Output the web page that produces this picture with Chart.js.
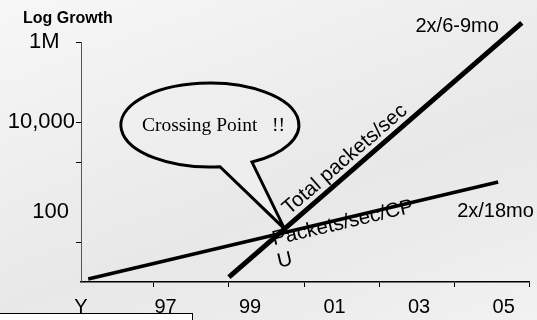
<!DOCTYPE html>
<html><head><meta charset="utf-8">
<script src="https://cdn.jsdelivr.net/npm/chart.js@4"></script>
<style>
html,body{margin:0;padding:0;}
#wrap{position:relative;width:537px;height:320px;overflow:hidden;
 background:linear-gradient(160deg,#f7f7f7 0%,#eeeeee 35%,#e8e8e8 60%,#ececec 80%,#f2f2f2 100%);}
#box{position:absolute;left:-1px;top:313px;width:194px;height:20px;background:#fff;border:1px solid #000;box-sizing:border-box;}
</style></head><body>
<div id="wrap"><canvas id="c"></canvas><div id="box"></div></div>
<script>
// ---- data ----
const seriesNames = ['Total packets/sec', 'Packets/sec/CPU'];
const totalYears  = [1998.5, 2005.43];
const totalValues = [1.33, 3000000];
const cpuYears    = [1995.17, 2004.87];
const cpuValues   = [1.19, 316];
const xLabelYears = [1995, 1997, 1999, 2001, 2003, 2005];
const xLabels     = ['Y', '97', '99', '01', '03', '05'];
const xMarkYears  = [1996.72, 1998.5, 2000.29, 2002.06, 2003.83, 2005.6];
const yLabelValues = [56, 10000, 1000000];
const yLabels      = ['100 ', '10,000', '1M\u2002\u2009'];
const yMarkValues  = [10, 1000, 10000, 1000000];
const rateLabels   = ['2x/6-9mo', '2x/18mo'];
const calloutText  = 'Crossing Point   !!';
const calloutYear  = 1998.05;
const calloutValue = 8400;

// ---- tick tables built from the arrays ----
const xTicks = xLabelYears.map((v,i)=>({v, label:xLabels[i], mark:false}))
  .concat(xMarkYears.map(v=>({v, label:'', mark:true})));
const yTicks = yLabelValues.map((v,i)=>({v, label:yLabels[i], mark:false}))
  .concat(yMarkValues.map(v=>({v, label:'', mark:true})));

const SANS = '"Liberation Sans", Arial, Helvetica, sans-serif';
const SERIF = '"Liberation Serif", "Times New Roman", serif';

function textAlong(ctx, a, b, frac, off, lines, lh){
  const dx=b.x-a.x, dy=b.y-a.y, L=Math.hypot(dx,dy), ux=dx/L, uy=dy/L;
  const nx=-uy, ny=ux;
  const ox=a.x+ux*frac*L+nx*off, oy=a.y+uy*frac*L+ny*off;
  ctx.save(); ctx.translate(ox,oy); ctx.rotate(Math.atan2(dy,dx));
  lines.forEach((t,i)=>ctx.fillText(t,0,i*lh));
  ctx.restore();
}

const annot = {
  id:'annot',
  afterDatasetsDraw(chart){
    const {ctx} = chart;
    const xs = chart.scales.x, ys = chart.scales.y;
    const P = (yr,v)=>({x:xs.getPixelForValue(yr), y:ys.getPixelForValue(v)});
    const t0=P(totalYears[0],totalValues[0]), t1=P(totalYears[1],totalValues[1]);
    const c0=P(cpuYears[0],cpuValues[0]), c1=P(cpuYears[1],cpuValues[1]);
    ctx.save();
    ctx.fillStyle='#000';
    ctx.textBaseline='alphabetic';
    // title
    ctx.font='bold 16px '+SANS; ctx.textAlign='left';
    ctx.fillText('Log Growth', 23, 23);
    // rate labels
    ctx.font='20px '+SANS;
    ctx.textAlign='right'; ctx.fillText(rateLabels[0], t1.x-23, t1.y+9);
    ctx.textAlign='left'; ctx.fillText(rateLabels[1], c1.x-41, c1.y+35);
    // series labels along lines
    ctx.font='20.5px '+SANS;
    textAlong(ctx, t0, t1, 0.222, -7, [seriesNames[0]], 23);
    textAlong(ctx, c0, c1, 0.447, 10, ['Packets/sec/CP','U'], 23);
    // crossing point
    const d1x=t1.x-t0.x, d1y=t1.y-t0.y, d2x=c1.x-c0.x, d2y=c1.y-c0.y;
    const den=d1x*d2y-d1y*d2x;
    const s=((c0.x-t0.x)*d2y-(c0.y-t0.y)*d2x)/den;
    const X={x:t0.x+s*d1x+6, y:t0.y+s*d1y-5};
    // callout
    const C=P(calloutYear,calloutValue), rx=89, ry=42;
    const a1=83.5*Math.PI/180, a2=61.8*Math.PI/180;
    ctx.beginPath();
    ctx.ellipse(C.x,C.y,rx,ry,0,a1,a2+2*Math.PI,false);
    ctx.lineTo(X.x,X.y);
    ctx.closePath();
    ctx.fillStyle='rgba(238,238,238,0.95)';
    ctx.fill();
    ctx.lineWidth=3; ctx.strokeStyle='#000'; ctx.lineJoin='miter';
    ctx.stroke();
    ctx.fillStyle='#000';
    ctx.font='19.5px '+SERIF; ctx.textAlign='left';
    ctx.fillText(calloutText, C.x-68, C.y+6);
    ctx.restore();
  }
};

new Chart(document.getElementById('c'), {
  type:'line',
  data:{datasets:[
    {label:seriesNames[0], data:totalYears.map((x,i)=>({x, y:totalValues[i]})),
     borderColor:'#000', borderWidth:5, pointRadius:0, clip:false, borderCapStyle:'butt'},
    {label:seriesNames[1], data:cpuYears.map((x,i)=>({x, y:cpuValues[i]})),
     borderColor:'#000', borderWidth:3.5, pointRadius:0, clip:false, borderCapStyle:'butt'}
  ]},
  options:{
    responsive:true, maintainAspectRatio:false, animation:false,
    layout:{padding:{top:42,right:7,left:0,bottom:0}},
    plugins:{legend:{display:false}, tooltip:{enabled:false}, title:{display:false}},
    scales:{
      x:{type:'linear', min:1995, max:2005.6,
        afterBuildTicks:s=>{s.ticks=xTicks.map(t=>({value:t.v}));},
        afterFit:s=>{s.height=38;},
        ticks:{autoSkip:false, maxRotation:0, padding:8, color:'#000',
          font:{family:SANS,size:20}, callback:(v,i)=>xTicks[i].label},
        grid:{drawOnChartArea:false, drawTicks:true, tickLength:5, tickWidth:1,
          tickColor:c=>(xTicks[c.index]&&xTicks[c.index].mark)?'#000':'rgba(0,0,0,0)'},
        border:{display:true, color:'#000', width:1.5}
      },
      y:{type:'logarithmic', min:1, max:1000000,
        afterBuildTicks:s=>{s.ticks=yTicks.map(t=>({value:t.v}));},
        afterFit:s=>{s.width=81;},
        ticks:{autoSkip:false, padding:1, color:'#000',
          font:{family:SANS,size:22}, callback:(v,i)=>yTicks[i].label},
        grid:{drawOnChartArea:false, drawTicks:true, tickLength:5, tickWidth:1,
          tickColor:c=>(yTicks[c.index]&&yTicks[c.index].mark)?'#000':'rgba(0,0,0,0)'},
        border:{display:true, color:'#555', width:1}
      }
    }
  },
  plugins:[annot]
});
</script>
</body></html>
